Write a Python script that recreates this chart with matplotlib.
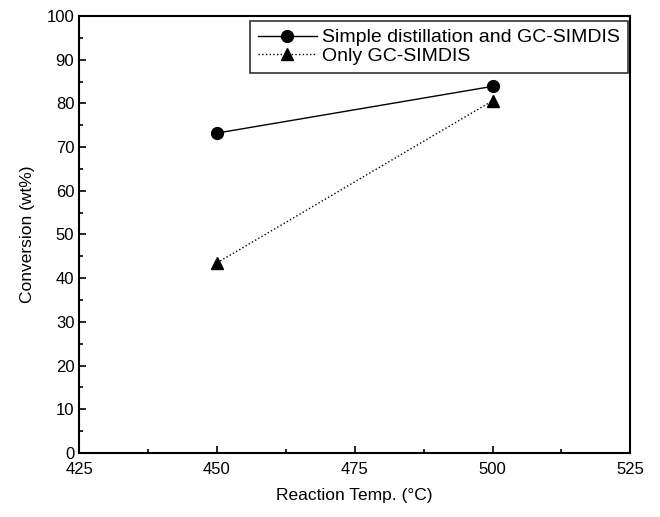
import matplotlib
matplotlib.use("Agg")
import matplotlib.pyplot as plt
from matplotlib.ticker import MultipleLocator

plt.rcParams['font.family'] = ['Liberation Sans', 'DejaVu Sans']

temps = [450, 500]
simple_gc = [73.2, 83.9]
only_gc = [43.5, 80.6]
labels = ["Simple distillation and GC-SIMDIS", "Only GC-SIMDIS"]

fig = plt.figure(figsize=(6.6, 5.17), dpi=100)
ax = fig.add_axes([0.120, 0.124, 0.835, 0.845])

ax.plot(temps, simple_gc, color='black', linestyle='-', linewidth=1.0,
        marker='o', markersize=8.5, label=labels[0])
ax.plot(temps, only_gc, color='black', linestyle=':', linewidth=1.0,
        marker='^', markersize=8.5, label=labels[1])

ax.set_xlim(425, 525)
ax.set_ylim(0, 100)
ax.xaxis.set_major_locator(MultipleLocator(25))
ax.xaxis.set_minor_locator(MultipleLocator(12.5))
ax.yaxis.set_major_locator(MultipleLocator(10))
ax.yaxis.set_minor_locator(MultipleLocator(5))
ax.tick_params(which='both', direction='in', top=False, right=False, labelsize=12, width=1.2)
ax.tick_params(which='major', length=5)
ax.tick_params(which='minor', length=3)
ax.tick_params(axis='x', pad=6.5)
for s in ax.spines.values():
    s.set_linewidth(1.5)

ax.set_xlabel("Reaction Temp. (\u00b0C)", fontsize=12.5, labelpad=8)
ax.set_ylabel("Conversion (wt%)", fontsize=12.5, labelpad=8)

leg = ax.legend(loc='upper right', bbox_to_anchor=(628 / 660, 1 - 21 / 517),
                bbox_transform=fig.transFigure, borderaxespad=0,
                fontsize=14, frameon=True, fancybox=False,
                edgecolor='black', handlelength=3.0, handletextpad=0.3,
                borderpad=0.4, labelspacing=0.05)
leg.get_frame().set_linewidth(1.2)

fig.savefig("out.png", dpi=100)
